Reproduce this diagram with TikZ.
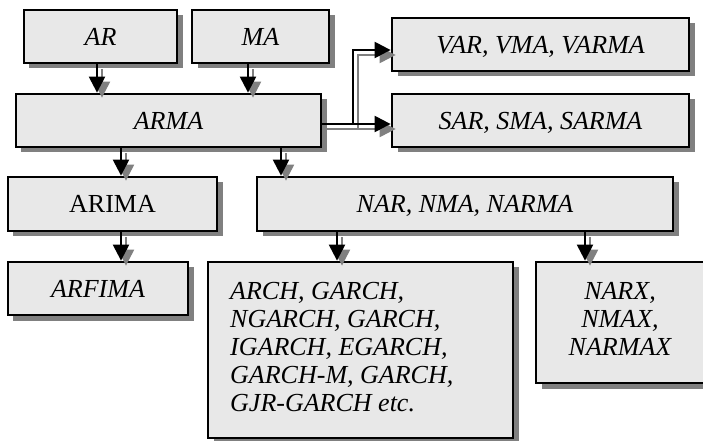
\documentclass[tikz,border=0pt]{standalone}
\usepackage{fontspec}
\setmainfont{Liberation Serif}
\usetikzlibrary{arrows.meta,shadows,calc}
\definecolor{boxfill}{HTML}{E8E8E8}
\definecolor{shadowgray}{HTML}{808080}
\newcommand\bigfont{\fontsize{26bp}{28bp}\selectfont}
\tikzset{
  box/.style={draw=black, line width=2.8bp, fill=boxfill, inner sep=0pt,
    text height=17.2bp, text depth=0bp, font=\bigfont\itshape,
    drop shadow={shadow xshift=5.5bp, shadow yshift=-5.5bp, fill=shadowgray, opacity=1}},
  txt/.style={inner sep=0pt, font=\bigfont\itshape},
  conn/.style={line width=2.3bp, -{Triangle[length=16bp,width=16bp]}},
}
\newcommand\drawconns[1]{%
  \draw[conn,#1] (ar.south -| 97,0) -- (arma.north -| 97,0);
  \draw[conn,#1] (ma.south -| 248,0) -- (arma.north -| 248,0);
  \draw[conn,#1] (arma.east |- 0,124) -- (353,124) |- ($(var.west)+(0,5.5)$);
  \draw[conn,#1] (arma.east |- 0,124) -- (sar.west |- 0,124);
  \draw[conn,#1] (arma.south -| 121,0) -- (arima.north -| 121,0);
  \draw[conn,#1] (arma.south -| 281,0) -- (nar.north -| 281,0);
  \draw[conn,#1] (arima.south -| 121,0) -- (arfima.north -| 121,0);
  \draw[conn,#1] (nar.south -| 337,0) -- (arch.north -| 337,0);
  \draw[conn,#1] (nar.south -| 585,0) -- (narx.north -| 585,0);
}
\begin{document}
\begin{tikzpicture}[x=1bp,y=-1bp]
\useasboundingbox (0,0) rectangle (703,441);
\node[box, minimum width=153bp, minimum height=53bp] (ar) at (100.5,36.5) {AR};
\node[box, minimum width=137bp, minimum height=53bp] (ma) at (260.5,36.5) {MA};
\node[box, minimum width=305bp, minimum height=53bp] (arma) at (168.5,120.5) {ARMA};
\node[box, minimum width=297bp, minimum height=53bp] (var) at (540.5,44.5) {VAR, VMA, VARMA};
\node[box, minimum width=297bp, minimum height=53bp] (sar) at (540.5,120.5) {SAR, SMA, SARMA};
\node[box, minimum width=209bp, minimum height=54bp, font=\bigfont\upshape] (arima) at (112.5,204) {ARIMA};
\node[box, minimum width=416bp, minimum height=54bp] (nar) at (465,204) {NAR, NMA, NARMA};
\node[box, minimum width=180bp, minimum height=53bp] (arfima) at (98,288.5) {ARFIMA};
\node[box, minimum width=305bp, minimum height=176bp] (arch) at (360.5,350) {};
\node[box, minimum width=172bp, minimum height=121bp] (narx) at (622,322.5) {};
\node[txt, anchor=north west, align=left] (archtxt) at (230,282)
  {ARCH, GARCH,\\NGARCH, GARCH,\\IGARCH, EGARCH,\\GARCH-M, GARCH,\\GJR-GARCH etc.};
\node[txt, anchor=north, align=center] (narxtxt) at (620,282)
  {NARX,\\NMAX,\\NARMAX};
\begin{scope}[transform canvas={shift={(5bp,-5bp)}}]
  \drawconns{shadowgray}
\end{scope}
\drawconns{black}
\end{tikzpicture}
\end{document}
